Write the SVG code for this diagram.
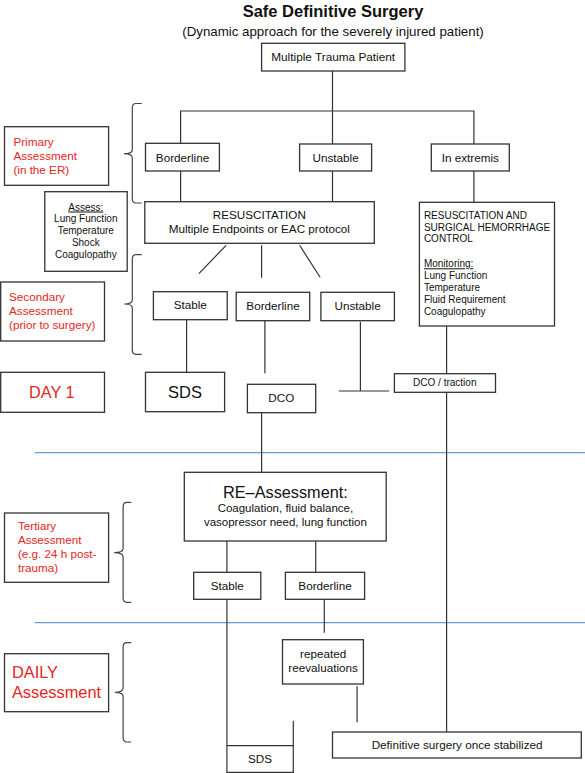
<svg xmlns="http://www.w3.org/2000/svg" width="585" height="773" viewBox="0 0 585 773">
<style>
.bx{fill:#fff;stroke:#333;stroke-width:1.3}
.ln{fill:none;stroke:#333;stroke-width:1.2}
.br{fill:none;stroke:#444;stroke-width:1.2}
.bl{stroke:#6a9ad8;stroke-width:1.3}
text{font-family:"Liberation Sans",Arial,sans-serif;fill:#111}
.c{text-anchor:middle}
.r{fill:#e5261e}
.s12{font-size:11.7px}
.s10{font-size:10px}
</style>
<rect width="585" height="773" fill="#fff"/>
<text class="c" x="333" y="16.5" style="font-size:16.5px;font-weight:bold">Safe Definitive Surgery</text>
<text class="c" x="333" y="35.5" style="font-size:13.3px">(Dynamic approach for the severely injured patient)</text>

<g id="separators">
<line class="bl" x1="34.7" y1="452.7" x2="585" y2="452.7"/>
<line class="bl" x1="34.7" y1="622.7" x2="585" y2="622.7"/>
</g>

<g id="braces">
<path class="br" d="M141.7,103.5 H136 Q132.3,103.5 132.3,108 V150 Q132.3,153.7 124,153.7 Q132.3,153.7 132.3,158 V198.5 Q132.3,203 136,203 H141.7"/>
<path class="br" d="M141.7,254.7 H136 Q132.3,254.7 132.3,259 V300 Q132.3,304 124.3,304 Q132.3,304 132.3,308 V350 Q132.3,354.3 136,354.3 H141.7"/>
<path class="br" d="M131.3,502.3 H127 Q123.1,502.3 123.1,507 V548.5 Q123.1,552.7 114.2,552.7 Q123.1,552.7 123.1,557 V598 Q123.1,602.3 127,602.3 H131.3"/>
<path class="br" d="M131.3,642.7 H127 Q123.1,642.7 123.1,647 V688 Q123.1,692.3 114.9,692.3 Q123.1,692.3 123.1,696.5 V737.5 Q123.1,742 127,742 H131.3"/>
</g>

<g id="connectors">
<path class="ln" d="M332.5,71 V111 M180.6,143.3 V111 H473.9 V144 M332.5,111 V144"/>
<path class="ln" d="M180.6,171 V201.7 M332.5,171 V201.7 M473.9,171 V202.3"/>
<path class="ln" d="M226.1,245.3 L198.9,273.7 M261.6,245.3 V277.7 M299.6,245.3 L320.1,277.3"/>
<path class="ln" d="M186.6,319.7 V372.3 M264.9,320.7 V373.3 M360.4,321.7 V391 M338.8,391 H389.2"/>
<path class="ln" d="M446.6,326 V373.7 M446.6,392.3 V732"/>
<path class="ln" d="M261.6,412.7 V472.3"/>
<path class="ln" d="M226.9,541 V572.3 M315.7,541 V572.3"/>
<path class="ln" d="M226.9,599.3 V772.3 H293.3 V720.7 M226.9,745.7 H293.3"/>
<path class="ln" d="M324.3,599.3 V632.7 M357.1,686.3 V722.3"/>
</g>

<g id="n-trauma">
<rect class="bx" x="261.6" y="43.3" width="143.3" height="27.7"/>
<text class="c" x="333.2" y="61" style="font-size:11.8px">Multiple Trauma Patient</text>
</g>

<g id="n-primary">
<rect class="bx" x="4.5" y="126.7" width="104.1" height="58.6"/>
<text class="r s12" x="13.4" y="146">Primary</text>
<text class="r s12" x="13.4" y="160">Assessment</text>
<text class="r s12" x="13.4" y="174">(in the ER)</text>
</g>

<g id="n-borderline1">
<rect class="bx" x="145.5" y="143.3" width="73.9" height="27.7"/>
<text class="c s12" x="182.5" y="161.5">Borderline</text>
</g>
<g id="n-unstable1">
<rect class="bx" x="299.6" y="144" width="72" height="27"/>
<text class="c s12" x="335.6" y="161.8">Unstable</text>
</g>
<g id="n-extremis">
<rect class="bx" x="431.3" y="144" width="78" height="27"/>
<text class="c s12" x="470.3" y="161.8">In extremis</text>
</g>

<g id="n-assess">
<rect class="bx" x="44.8" y="191.7" width="82.4" height="79.6"/>
<text class="c s10" x="85.8" y="210.5" text-decoration="underline">Assess:</text>
<text class="c s10" x="85.8" y="222.3">Lung Function</text>
<text class="c s10" x="85.8" y="234">Temperature</text>
<text class="c s10" x="85.8" y="246">Shock</text>
<text class="c s10" x="85.8" y="258">Coagulopathy</text>
</g>

<g id="n-resus">
<rect class="bx" x="144.8" y="201.7" width="229.5" height="41.6"/>
<text class="c s12" x="259.3" y="219">RESUSCITATION</text>
<text class="c s12" x="259.3" y="232.7">Multiple Endpoints or EAC protocol</text>
</g>

<g id="n-resus-surg">
<rect class="bx" x="419.4" y="202.3" width="135.1" height="123.7"/>
<text class="s10" x="423.9" y="218.7">RESUSCITATION AND</text>
<text class="s10" x="423.9" y="230.7">SURGICAL HEMORRHAGE</text>
<text class="s10" x="423.9" y="242.3">CONTROL</text>
<text class="s10" x="423.9" y="267.3" text-decoration="underline">Monitoring:</text>
<text class="s10" x="423.9" y="279.3">Lung Function</text>
<text class="s10" x="423.9" y="291">Temperature</text>
<text class="s10" x="423.9" y="303">Fluid Requirement</text>
<text class="s10" x="423.9" y="315">Coagulopathy</text>
</g>

<g id="n-secondary">
<rect class="bx" x="0.7" y="282" width="103.8" height="59"/>
<text class="r s12" x="9" y="301">Secondary</text>
<text class="r s12" x="9" y="315.3">Assessment</text>
<text class="r s12" x="9" y="329">(prior to surgery)</text>
</g>

<g id="n-stable2">
<rect class="bx" x="153.4" y="291.7" width="73.8" height="28"/>
<text class="c s12" x="190.3" y="309.3">Stable</text>
</g>
<g id="n-borderline2">
<rect class="bx" x="236.2" y="292.3" width="73.5" height="28.4"/>
<text class="c s12" x="273" y="310">Borderline</text>
</g>
<g id="n-unstable2">
<rect class="bx" x="320.9" y="292.3" width="73.5" height="28.4"/>
<text class="c s12" x="357.6" y="310">Unstable</text>
</g>

<g id="n-day1">
<rect class="bx" x="0.7" y="372.3" width="103.8" height="40"/>
<text class="c r" x="51.9" y="397.5" style="font-size:16.3px">DAY 1</text>
</g>
<g id="n-sds1">
<rect class="bx" x="145.5" y="372.3" width="79.1" height="39.4"/>
<text class="c" x="185" y="397.5" style="font-size:16.5px">SDS</text>
</g>
<g id="n-dco">
<rect class="bx" x="247.4" y="384.3" width="68.3" height="28.4"/>
<text class="c s12" x="281.3" y="402.3">DCO</text>
</g>
<g id="n-dco-traction">
<rect class="bx" x="394.4" y="373.7" width="101.1" height="18.6"/>
<text class="c s10" x="444.8" y="386.3">DCO / traction</text>
</g>

<g id="n-reassess">
<rect class="bx" x="184.3" y="472.3" width="201.9" height="68.7"/>
<text class="c" x="285.4" y="497.5" style="font-size:16.3px">RE–Assessment:</text>
<text class="c" x="285.4" y="511.7" style="font-size:11.5px">Coagulation, fluid balance,</text>
<text class="c" x="285.4" y="526" style="font-size:11.5px">vasopressor need, lung function</text>
</g>

<g id="n-tertiary">
<rect class="bx" x="4.5" y="513" width="104.1" height="69.3"/>
<text class="r s12" x="17.9" y="530">Tertiary</text>
<text class="r s12" x="17.9" y="544">Assessment</text>
<text class="r s12" x="17.9" y="558">(e.g. 24 h post-</text>
<text class="r s12" x="17.9" y="572">trauma)</text>
</g>

<g id="n-stable3">
<rect class="bx" x="193.7" y="572.3" width="67.1" height="27"/>
<text class="c s12" x="227.2" y="589.5">Stable</text>
</g>
<g id="n-borderline3">
<rect class="bx" x="285.4" y="572.3" width="79.2" height="27"/>
<text class="c s12" x="325" y="589.5">Borderline</text>
</g>

<g id="n-daily">
<rect class="bx" x="4.5" y="653.7" width="104.1" height="58"/>
<text class="r" x="11.9" y="678.3" style="font-size:16.4px">DAILY</text>
<text class="r" x="11.9" y="698.3" style="font-size:16.4px">Assessment</text>
</g>

<g id="n-repeated">
<rect class="bx" x="282.5" y="639.7" width="80.9" height="44.3"/>
<text class="c s12" x="323.1" y="657.7">repeated</text>
<text class="c s12" x="323.1" y="672">reevaluations</text>
</g>

<g id="n-sds2">
<text class="c s12" x="260" y="762.7">SDS</text>
</g>

<g id="n-definitive">
<rect class="bx" x="332.5" y="732" width="248.8" height="26"/>
<text class="c s12" x="457.1" y="748.5">Definitive surgery once stabilized</text>
</g>
</svg>
